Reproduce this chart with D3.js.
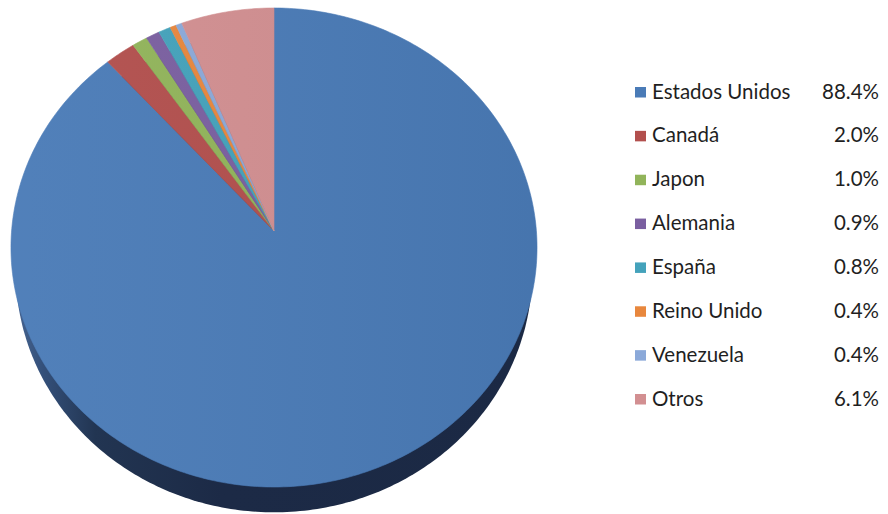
<!DOCTYPE html>
<html>
<head>
<meta charset="utf-8">
<script src="https://cdn.jsdelivr.net/npm/d3@7"></script>
<style>
  html, body { margin: 0; padding: 0; background: #ffffff; }
  svg { display: block; }
</style>
</head>
<body>
<div id="chart"></div>
<script>
// ---- data ----
const categories = ["Estados Unidos", "Canadá", "Japon", "Alemania", "España", "Reino Unido", "Venezuela", "Otros"];
const values = [88.4, 2.0, 1.0, 0.9, 0.8, 0.4, 0.4, 6.1];
const colors = ["#4a7bb7", "#b24f4d", "#91b45a", "#7a5fa0", "#44a2bb", "#e8873d", "#8ba9d9", "#d28f91"];

// ---- layout ----
const W = 888, H = 514;
const svg = d3.select("#chart").append("svg").attr("width", W).attr("height", H);
svg.append("rect").attr("width", W).attr("height", H).attr("fill", "#ffffff");

// perspective projection of the unit disk (plane coords u,v) to screen
const CX = 274, VY = 231, B = 222.45, C = -0.0689, K = 262.4, DEPTH = 23.6, SHRINK = 0.982;
function proj(u, v, h, s) {
  const w = 1 + C * v;
  return [CX + (s || 1) * K * u / w, (VY + B * v + (h || 0)) / w];
}
function rim(theta, h, s) { return proj(Math.sin(theta), -Math.cos(theta), h, s); }

const pie = d3.pie().sort(null).value(d => d)(values);
const line = d3.line();

const defs = svg.append("defs");
const sideGrad = defs.append("linearGradient").attr("id", "sideGrad")
  .attr("gradientUnits", "userSpaceOnUse").attr("x1", 11).attr("x2", 537).attr("y1", 0).attr("y2", 0);
[[0, "#4a6894"], [0.06, "#34507a"], [0.16, "#223552"], [0.4, "#1c2a46"], [1, "#1b2944"]]
  .forEach(([o, c]) => sideGrad.append("stop").attr("offset", o).attr("stop-color", c));

const topGrad = defs.append("linearGradient").attr("id", "topGrad")
  .attr("gradientUnits", "userSpaceOnUse").attr("x1", 11).attr("x2", 537).attr("y1", 0).attr("y2", 0);
topGrad.append("stop").attr("offset", 0).attr("stop-color", "#ffffff").attr("stop-opacity", 0.04);
topGrad.append("stop").attr("offset", 1).attr("stop-color", "#000000").attr("stop-opacity", 0.05);

// ---- side wall: bottom rim (narrower and lower, perspective) shows under the top face ----
const bottom = d3.range(401).map(k => rim(2 * Math.PI * k / 400, DEPTH, SHRINK));
svg.append("path").attr("d", line(bottom) + "Z").attr("fill", "url(#sideGrad)");

// ---- top face slices ----
const g = svg.append("g");
pie.forEach((s, i) => {
  const n = Math.max(4, Math.ceil((s.endAngle - s.startAngle) / (2 * Math.PI) * 400));
  const pts = [proj(0, 0)].concat(d3.range(n + 1).map(k => rim(s.startAngle + (s.endAngle - s.startAngle) * k / n, 0)));
  g.append("path")
    .attr("d", line(pts) + "Z")
    .attr("fill", colors[i])
    .attr("stroke", colors[i])
    .attr("stroke-width", 0.6)
    .attr("stroke-linejoin", "round");
});
// subtle shading over top face
const full = d3.range(401).map(k => rim(2 * Math.PI * k / 400, 0));
svg.append("path").attr("d", line(full) + "Z").attr("fill", "url(#topGrad)");

// ---- legend ----
const fmt = d3.format(".1f");
const legendY = d3.scalePoint().domain(categories).range([91.5, 398.5]);
const lg = svg.append("g").attr("font-family", "Lato, 'Open Sans', sans-serif").attr("font-size", 20.5).attr("fill", "#1f1f1f");
categories.forEach((c, i) => {
  const y = legendY(c);
  lg.append("rect").attr("x", 635).attr("y", y - 4.5).attr("width", 11).attr("height", 10.5).attr("fill", colors[i]);
  lg.append("text").attr("x", 652).attr("y", y + 7).text(c);
  lg.append("text").attr("x", 879).attr("y", y + 7).attr("text-anchor", "end").text(fmt(values[i]) + "%");
});
</script>
</body>
</html>
